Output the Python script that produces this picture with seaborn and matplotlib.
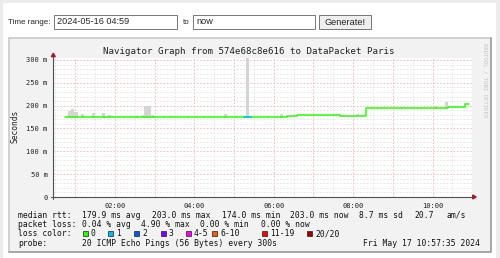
import matplotlib
matplotlib.use("Agg")
import matplotlib.pyplot as plt
import seaborn as sns
import numpy as np
import pandas as pd
from matplotlib.patches import Rectangle, Polygon
from matplotlib.lines import Line2D

# ---------------- data ----------------
median_times = ["00:45", "06:20", "06:35", "07:40", "08:20", "10:23", "10:49", "10:55"]
median_values = [174.5, 178.0, 179.0, 177.8, 194.5, 198.0, 203.0, 203.0]

loss1_times = ["05:15", "05:25"]
loss1_values = [174.5, 174.5]

smoke_times = ["00:51", "00:56", "01:01", "01:11", "01:28", "01:43", "01:52", "02:32",
               "02:43", "02:47", "02:52", "02:57", "04:47", "05:20", "06:12", "08:07",
               "09:15", "10:06", "10:21"]
smoke_tops = [189, 192, 186, 182, 184, 184, 179, 177.6,
              180, 200, 200, 179, 182, 310, 181, 182,
              198, 200, 209]
smoke_lows = [174, 174, 174, 174, 174, 174, 174, 174,
              174, 174, 174, 174, 174, 174, 174, 177,
              194, 194, 194]

y_ticks = [0, 50, 100, 150, 200, 250, 300]
y_tick_labels = ["0", "50 m", "100 m", "150 m", "200 m", "250 m", "300 m"]
x_tick_hours = [1, 2, 3, 4, 5, 6, 7, 8, 9, 10]
x_tick_labels = ["", "02:00", "", "04:00", "", "06:00", "", "08:00", "", "10:00"]

title = "Navigator Graph from 574e68c8e616 to DataPacket Paris"
legend_rtt = ["179.9 ms avg", "203.0 ms max", "174.0 ms min", "203.0 ms now", "8.7 ms sd", "20.7", "am/s"]
legend_loss = ["0.04 % avg", "4.90 % max", "0.00 % min", "0.00 % now"]
loss_labels = ["0", "1", "2", "3", "4-5", "6-10", "11-19", "20/20"]
loss_colors = ["#26ff00", "#00b8ff", "#0059ff", "#7e00ff", "#ff00ff", "#ff5500", "#ff0000", "#a10000"]
probe_text = "20 ICMP Echo Pings (56 Bytes) every 300s"
date_text = "Fri May 17 10:57:35 2024"


def hrs(s):
    h, m = s.split(":")
    return int(h) + int(m) / 60.0


# ---------------- figure ----------------
W, H = 500, 258
sns.set_style("white")
plt.rcParams["font.family"] = ["DejaVu Sans Mono"]
fig = plt.figure(figsize=(W / 100, H / 100), dpi=100)
fig.patch.set_facecolor("#ececec")


def fx(x):
    return x / W


def fy(y):
    return 1 - y / H


def frect(x0, y0, x1, y1, **kw):
    r = Rectangle((fx(x0), fy(y1)), (x1 - x0) / W, (y1 - y0) / H,
                  transform=fig.transFigure, **kw)
    fig.patches.append(r)
    return r


def fline(xs, ys, **kw):
    l = Line2D([fx(x) for x in xs], [fy(y) for y in ys], transform=fig.transFigure, **kw)
    fig.lines.append(l)


# page panel
frect(2.5, 3, 495.5, 260, facecolor="white", edgecolor="none", zorder=-2)

# form
SANS = "Liberation Sans"
fig.text(fx(8), fy(22), "Time range:", ha="left", va="center", fontsize=5.8, family=SANS)
frect(54, 15, 176.7, 29.3, facecolor="white", edgecolor="#767676", lw=0.7, zorder=-1)
fig.text(fx(57), fy(22), "2024-05-16 04:59", ha="left", va="center", fontsize=6.6, family=SANS)
fig.text(fx(182.7), fy(22), "to", ha="left", va="center", fontsize=5.8, family=SANS)
frect(192.7, 15, 315, 29.3, facecolor="white", edgecolor="#767676", lw=0.7, zorder=-1)
fig.text(fx(196), fy(22), "now", ha="left", va="center", fontsize=6.6, family=SANS)
frect(319.3, 15.3, 370.7, 29.3, facecolor="#efefef", edgecolor="#767676", lw=0.7, zorder=-1)
fig.text(fx(345), fy(22.3), "Generate!", ha="center", va="center", fontsize=6.6, family=SANS)

# graph image background + 3D border
frect(8, 37, 491, 252, facecolor="#f2f2f2", edgecolor="none", zorder=-1)
fline([8.5, 8.5, 490.5], [251.5, 37.5, 37.5], color="#cbcbcb", lw=1.2, zorder=-0.5)
fline([8.5, 490.5, 490.5], [251.5, 251.5, 37.5], color="#999999", lw=1.2, zorder=-0.5)

# ---------------- plot canvas ----------------
L, R, T, B = 53.3, 471.7, 57.7, 197.0
ax = fig.add_axes([fx(L), fy(B), (R - L) / W, (B - T) / H])
ax.set_zorder(1)
ax.set_facecolor("white")

# smoke
st = np.array([hrs(t) for t in smoke_times])
stop = np.array(smoke_tops)
slow = np.array(smoke_lows)
ax.bar(st, stop - slow, bottom=slow, width=1 / 12, color="#d4d4d4", linewidth=0, zorder=2)

# median line
df_med = pd.DataFrame({"t": [hrs(t) for t in median_times], "rtt": median_values})
sns.lineplot(data=df_med, x="t", y="rtt", drawstyle="steps-post", color="#26ff00",
             linewidth=1.1, ax=ax, zorder=3, sort=False)
df_l1 = pd.DataFrame({"t": [hrs(t) for t in loss1_times], "rtt": loss1_values})
sns.lineplot(data=df_l1, x="t", y="rtt", drawstyle="steps-post", color="#00b8ff",
             linewidth=1.1, ax=ax, zorder=4, sort=False)

ax.set_xlim(0.446, 10.985)
ax.set_ylim(0, 305)
ax.set_xlabel("")
ax.set_ylabel("")

# grid
ax.set_xticks(x_tick_hours)
ax.set_xticklabels(x_tick_labels)
ax.set_xticks(np.arange(0.5, 11, 1.0), minor=True)
ax.set_yticks(y_ticks)
ax.set_yticklabels(y_tick_labels)
ax.set_yticks(np.arange(10, 305, 10), minor=True)
ax.grid(which="minor", color="#e2e2e2", lw=0.6, linestyle=(0, (2, 2)))
ax.grid(which="major", color="#f0b4b4", lw=0.6, linestyle=(0, (2, 2)))
ax.set_axisbelow(True)
for s in ax.spines.values():
    s.set_visible(False)
ax.tick_params(axis="both", which="major", length=2, width=0.6, color="#555555",
               labelsize=5.06, pad=2, labelcolor="#222222")
ax.tick_params(axis="both", which="minor", length=0)
for lab in ax.get_xticklabels() + ax.get_yticklabels():
    lab.set_family("DejaVu Sans Mono")

# axes lines with arrows
fline([L, L], [B + 2, T - 1], color="#505050", lw=0.8, zorder=5)
fline([L - 2, R + 1], [B, B], color="#505050", lw=0.8, zorder=5)
fig.patches.append(Polygon([(fx(L - 2), fy(T - 1)), (fx(L + 2), fy(T - 1)), (fx(L), fy(T - 4.5))],
                           closed=True, transform=fig.transFigure, color="#a02020", zorder=6))
fig.patches.append(Polygon([(fx(R + 1), fy(B - 2)), (fx(R + 1), fy(B + 2)), (fx(R + 4.5), fy(B))],
                           closed=True, transform=fig.transFigure, color="#a02020", zorder=6))

# title, y label, watermark
MONO = "DejaVu Sans Mono"
fig.text(fx(249), fy(51.5), title, ha="center", va="center", fontsize=6.6, family=MONO, color="#222222")
fig.text(fx(15), fy(126.7), "Seconds", ha="center", va="center", rotation=90, fontsize=5.7,
         family=MONO, color="#222222")
fig.text(fx(485), fy(80), "RRDTOOL / TOBI OETIKER", ha="center", va="center", rotation=-90,
         fontsize=4.1, family=MONO, color="#c4c4c4")

# legend
LS = 5.78
col = "#111111"
fig.text(fx(18.3), fy(215), "median rtt:", ha="left", va="center", fontsize=LS, family=MONO, color=col)
for x, s in zip([81.7, 151.7, 222, 290, 359, 414, 446.7], legend_rtt):
    fig.text(fx(x), fy(215), s, ha="left", va="center", fontsize=LS, family=MONO, color=col)
fig.text(fx(18.3), fy(224.3), "packet loss:", ha="left", va="center", fontsize=LS, family=MONO, color=col)
for x, s in zip([81.7, 141, 200, 261], legend_loss):
    fig.text(fx(x), fy(224.3), s, ha="left", va="center", fontsize=LS, family=MONO, color=col)
fig.text(fx(18.3), fy(233.7), "loss color:", ha="left", va="center", fontsize=LS, family=MONO, color=col)
for x, s, c in zip([82.7, 108.3, 134.3, 161, 185.7, 212.3, 261.7, 307.3], loss_labels, loss_colors):
    frect(x, 231.2, x + 5, 236.2, facecolor=c, edgecolor="#222222", lw=0.5, zorder=5)
    fig.text(fx(x + 8), fy(233.7), s, ha="left", va="center", fontsize=LS, family=MONO, color=col)
fig.text(fx(18.3), fy(243), "probe:", ha="left", va="center", fontsize=LS, family=MONO, color=col)
fig.text(fx(81.7), fy(243), probe_text, ha="left", va="center", fontsize=LS, family=MONO, color=col)
fig.text(fx(480), fy(243), date_text, ha="right", va="center", fontsize=LS, family=MONO, color=col)

fig.savefig("out.png", dpi=100, facecolor=fig.get_facecolor())
